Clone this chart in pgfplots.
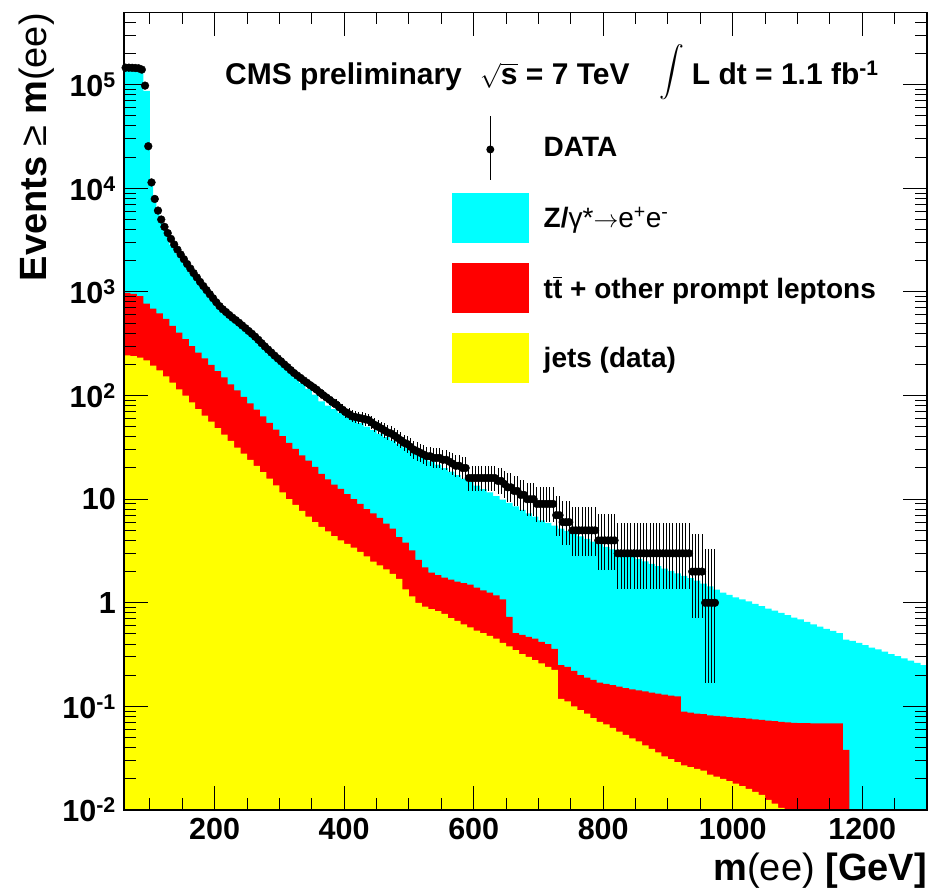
\documentclass[border=0pt]{standalone}
\usepackage{fontspec}
\setmainfont{Liberation Sans}
\usepackage{exscale}
\usepackage{pgfplots}
\pgfplotsset{compat=1.18}
\usepackage{pgfplotstable}
\definecolor{rcyan}{RGB}{0,255,255}
\definecolor{rred}{RGB}{255,0,0}
\definecolor{ryellow}{RGB}{255,255,0}

\pgfplotstableread{
m n ep em
62.5 146000 383 382
67.5 146000 383 382
72.5 145500 382 381
77.5 145000 382 381
82.5 144000 380 379
87.5 140000 375 374
92.5 98000 314 313
97.5 25500 161 160
102.5 11400 108 107
107.5 7900 90 89
112.5 6100 79 78
117.5 5000 72 71
122.5 4250 66 65
127.5 3700 62 61
132.5 3250 58 57
137.5 2870 55 54
142.5 2560 52 51
147.5 2300 49 48
152.5 2070 46 45
157.5 1860 44 43
162.5 1680 42 41
167.5 1520 40 39
172.5 1380 38 37
177.5 1250 36 35
182.5 1140 35 34
187.5 1040 33 32
192.5 950 32 31
197.5 870 30.5 29.5
202.5 795 29.2 28.2
207.5 730 28 27
212.5 680 27 26
217.5 640 26.3 25.3
222.5 600 25.5 24.5
227.5 565 24.8 23.8
232.5 535 24.1 23.1
237.5 505 23.5 22.5
242.5 475 22.8 21.8
247.5 447 22.1 21.1
252.5 420 21.5 20.5
257.5 395 20.9 19.9
262.5 370 20.2 19.2
267.5 345 19.6 18.6
272.5 320 18.9 17.9
277.5 298 18.3 17.3
282.5 278 17.7 16.7
287.5 260 17.1 16.1
292.5 243 16.6 15.6
297.5 228 16.1 15.1
302.5 214 15.6 14.6
307.5 200 15.1 14.1
312.5 188 14.7 13.7
317.5 176 14.3 13.3
322.5 165 13.8 12.8
327.5 156 13.5 12.5
332.5 148 13.2 12.2
337.5 140 12.8 11.8
342.5 133 12.5 11.5
347.5 126 12.2 11.2
352.5 120 12.0 11.0
357.5 114 11.7 10.7
362.5 107 11.3 10.3
367.5 101 11.0 10.0
372.5 96 10.8 9.8
377.5 91 10.5 9.5
382.5 86 10.3 9.3
387.5 82 10.1 9.1
392.5 77 9.8 8.8
397.5 73 9.5 8.5
402.5 69 9.3 8.3
407.5 66 9.1 8.1
412.5 63 8.9 7.9
417.5 62 8.9 7.9
422.5 61 8.8 7.8
427.5 60 8.7 7.7
432.5 59 8.7 7.7
437.5 58 8.6 7.6
442.5 55 8.4 7.4
447.5 52 8.2 7.2
452.5 50 8.1 7.1
457.5 48 7.9 6.9
462.5 46 7.8 6.8
467.5 44 7.6 6.6
472.5 43 7.6 6.6
477.5 41 7.4 6.4
482.5 39 7.2 6.2
487.5 37 7.1 6.1
492.5 35 6.9 5.9
497.5 34 6.8 5.8
502.5 32 6.7 5.7
507.5 30 6.5 5.5
512.5 29 6.4 5.4
517.5 28 6.3 5.3
522.5 27 6.2 5.2
527.5 26 6.1 5.1
532.5 26 6.1 5.1
537.5 25 6.0 5.0
542.5 25 6.0 5.0
547.5 25 6.0 5.0
552.5 24 5.9 4.9
557.5 24 5.9 4.9
562.5 23 5.8 4.8
567.5 22 5.7 4.7
572.5 21 5.6 4.6
577.5 21 5.6 4.6
582.5 20 5.5 4.3
587.5 20 5.5 4.3
592.5 16 5.08 3.94
597.5 16 5.08 3.94
602.5 16 5.08 3.94
607.5 16 5.08 3.94
612.5 16 5.08 3.94
617.5 16 5.08 3.94
622.5 16 5.08 3.94
627.5 16 5.08 3.94
632.5 16 5.08 3.94
637.5 15 4.96 3.80
642.5 15 4.96 3.80
647.5 14 4.83 3.70
652.5 13 4.70 3.55
657.5 13 4.70 3.55
662.5 12 4.56 3.41
667.5 12 4.56 3.41
672.5 11 4.42 3.26
677.5 11 4.42 3.26
682.5 10 4.27 3.11
687.5 10 4.27 3.11
692.5 10 4.27 3.11
697.5 9 4.11 2.94
702.5 9 4.11 2.94
707.5 9 4.11 2.94
712.5 9 4.11 2.94
717.5 9 4.11 2.94
722.5 9 4.11 2.94
727.5 7 3.77 2.58
732.5 7 3.77 2.58
737.5 6 3.58 2.38
742.5 6 3.58 2.38
747.5 6 3.58 2.38
752.5 5 3.38 2.16
757.5 5 3.38 2.16
762.5 5 3.38 2.16
767.5 5 3.38 2.16
772.5 5 3.38 2.16
777.5 5 3.38 2.16
782.5 5 3.38 2.16
787.5 5 3.38 2.16
792.5 4 3.16 1.91
797.5 4 3.16 1.91
802.5 4 3.16 1.91
807.5 4 3.16 1.91
812.5 4 3.16 1.91
817.5 4 3.16 1.91
822.5 3 2.92 1.63
827.5 3 2.92 1.63
832.5 3 2.92 1.63
837.5 3 2.92 1.63
842.5 3 2.92 1.63
847.5 3 2.92 1.63
852.5 3 2.92 1.63
857.5 3 2.92 1.63
862.5 3 2.92 1.63
867.5 3 2.92 1.63
872.5 3 2.92 1.63
877.5 3 2.92 1.63
882.5 3 2.92 1.63
887.5 3 2.92 1.63
892.5 3 2.92 1.63
897.5 3 2.92 1.63
902.5 3 2.92 1.63
907.5 3 2.92 1.63
912.5 3 2.92 1.63
917.5 3 2.92 1.63
922.5 3 2.92 1.63
927.5 3 2.92 1.63
932.5 3 2.92 1.63
937.5 2 2.64 1.29
942.5 2 2.64 1.29
947.5 2 2.64 1.29
952.5 2 2.64 1.29
957.5 1 2.30 0.83
962.5 1 2.30 0.83
967.5 1 2.30 0.83
972.5 1 2.30 0.83
}\datatab

\pgfplotstableread{
m v
60 0.001
60 147000
90 87000
100 11500
105 7700
110 5900
115 4850
120 4150
125 3600
130 2850
140 2300
150 1900
160 1540
170 1270
180 1050
190 870
200 720
210 620
220 550
230 490
240 440
250 390
260 340
270 292
280 255
290 225
300 197
310 172
320 150
330 132
340 116
350 102
360 88
370 80
380 74
390 68
400 63
410 58.6
420 54.2
430 50.2
440 46.5
450 43
460 39.8
470 36.9
480 34.1
490 31.6
500 29.3
510 27.1
520 25.1
530 23.2
540 21.5
550 19.9
560 18.4
570 17.1
580 15.8
590 14.6
600 13.5
610 12.5
620 11.6
630 10.7
640 9.9
650 9.2
660 8.5
670 7.9
680 7.3
690 6.8
700 6.25
710 5.9
720 5.55
730 5.2
740 4.93
750 4.65
760 4.38
770 4.13
780 3.89
790 3.67
800 3.46
810 3.27
820 3.10
830 2.94
840 2.79
850 2.65
860 2.51
870 2.38
880 2.26
890 2.14
900 2.03
910 1.92
920 1.82
930 1.73
940 1.64
950 1.53
960 1.44
970 1.34
980 1.25
990 1.19
1000 1.13
1010 1.08
1020 1.03
1030 0.975
1040 0.93
1050 0.88
1060 0.84
1070 0.80
1080 0.76
1090 0.72
1100 0.69
1110 0.655
1120 0.62
1130 0.59
1140 0.56
1150 0.537
1160 0.51
1170 0.44
1180 0.43
1190 0.41
1200 0.39
1210 0.37
1220 0.355
1230 0.338
1240 0.32
1250 0.305
1260 0.29
1270 0.277
1280 0.263
1290 0.25
1300 0.24
1300 0.001
}\zgtab

\pgfplotstableread{
m v
60 0.001
60 980
70 960
80 910
90 770
100 690
110 620
120 550
130 470
140 405
150 350
160 300
170 260
180 228
190 198
200 172
210 150
220 128
230 112
240 97
250 84
260 73
270 63
280 54.5
290 47
300 40.5
310 35
320 30.5
330 26.5
340 23.5
350 20.5
360 17.5
370 15.5
380 13.8
390 12.6
400 11.2
410 10.0
420 9.0
430 8.0
440 7.3
450 6.6
460 5.8
470 5.2
480 4.3
490 3.8
500 3.2
510 2.6
520 2.2
530 1.95
540 1.85
550 1.75
560 1.67
570 1.60
580 1.55
590 1.50
600 1.40
610 1.32
620 1.25
630 1.18
640 1.08
650 0.73
660 0.51
670 0.49
680 0.47
690 0.45
700 0.42
710 0.40
720 0.36
730 0.25
740 0.24
750 0.22
760 0.20
770 0.19
780 0.18
790 0.17
800 0.165
810 0.16
820 0.155
830 0.15
840 0.146
850 0.143
860 0.14
870 0.136
880 0.133
890 0.13
900 0.127
910 0.125
920 0.089
930 0.087
940 0.085
950 0.084
960 0.082
970 0.081
980 0.080
990 0.079
1000 0.078
1010 0.077
1020 0.076
1030 0.075
1040 0.074
1050 0.073
1060 0.072
1070 0.071
1080 0.070
1090 0.0695
1100 0.069
1110 0.0688
1120 0.0687
1130 0.0686
1140 0.0686
1150 0.0686
1160 0.0686
1170 0.038
1180 0.001
}\tttab

\pgfplotstableread{
m v
60 0.001
60 244
70 240
80 232
90 219
100 195
110 175
120 153
130 133
140 115
150 100
160 86
170 74
180 64
190 56
200 48.5
210 42
220 36.5
230 31.5
240 27.5
250 24
260 21
270 18.2
280 15.8
290 13.6
300 11.6
310 10.0
320 8.8
330 7.7
340 6.8
350 6.0
360 5.4
370 4.9
380 4.4
390 4.0
400 3.7
410 3.4
420 3.1
430 2.8
440 2.5
450 2.3
460 2.1
470 1.9
480 1.7
490 1.35
500 1.15
510 1.0
520 0.92
530 0.87
540 0.83
550 0.78
560 0.71
570 0.67
580 0.62
590 0.58
600 0.54
610 0.51
620 0.48
630 0.45
640 0.41
650 0.38
660 0.35
670 0.32
680 0.30
690 0.28
700 0.26
710 0.24
720 0.225
730 0.118
740 0.112
750 0.10
760 0.092
770 0.085
780 0.077
790 0.071
800 0.067
810 0.062
820 0.057
830 0.053
840 0.049
850 0.046
860 0.042
870 0.039
880 0.036
890 0.033
900 0.031
910 0.029
920 0.027
930 0.026
940 0.025
950 0.024
960 0.022
970 0.021
980 0.020
990 0.019
1000 0.018
1010 0.017
1020 0.016
1030 0.015
1040 0.014
1050 0.0125
1060 0.0115
1070 0.0105
1080 0.001
}\jettab

\begin{document}
\begin{tikzpicture}
\useasboundingbox (0pt,0pt) rectangle (940pt,887pt);
\begin{axis}[
  at={(124pt,77pt)}, anchor=south west,
  scale only axis, width=803pt, height=797.7pt,
  ymode=log, xmin=60, xmax=1300, ymin=0.01, ymax=500000,
  axis on top,
  xtick={200,400,600,800,1000,1200},
  xticklabels={200,400,600,800,1000,1200},
  minor xtick={100,150,...,1300},
  ytick={0.01,0.1,1,10,100,1000,10000,100000},
  yticklabels={10\textsuperscript{-2},10\textsuperscript{-1},1,10,10\textsuperscript{2},10\textsuperscript{3},10\textsuperscript{4},10\textsuperscript{5}},
  minor ytick={0.02,0.03,0.04,0.05,0.06,0.07,0.08,0.09,0.2,0.3,0.4,0.5,0.6,0.7,0.8,0.9,2,3,4,5,6,7,8,9,20,30,40,50,60,70,80,90,200,300,400,500,600,700,800,900,2000,3000,4000,5000,6000,7000,8000,9000,20000,30000,40000,50000,60000,70000,80000,90000,200000,300000,400000},
  tick align=inside, xtick pos=both, ytick pos=both,
  major tick length=24pt, minor tick length=12pt,
  tick style={black, line width=1pt},
  axis line style={black, line width=1.2pt},
  /pgf/number format/assume math mode=true,
  tick label style={font=\fontsize{30.5}{31}\selectfont\bfseries},
  xticklabel style={inner sep=0pt, yshift=-8pt},
  yticklabel style={inner sep=0pt, xshift=-8pt},
  xlabel={\textbf{m}(ee) \textbf{[GeV]}},
  ylabel={\textbf{Events} ≥ \textbf{m}(ee)},
  x label style={at={(axis description cs:1,0)}, anchor=base east, yshift=-70pt, inner sep=0pt, font=\fontsize{38}{38}\selectfont},
  y label style={at={(axis description cs:-0.0959,0.999)}, anchor=base east, inner sep=0pt, font=\fontsize{38}{38}\selectfont},
  legend style={at={(axis description cs:0.4085,0.8738)}, anchor=north west, draw=none, fill=none,
    inner sep=0pt, outer sep=0pt, row sep=0pt, column sep=15pt,
    font=\fontsize{28}{30}\selectfont\bfseries, nodes={inner sep=0pt}},
  legend cell align=left,
]
\addlegendimage{legend image code/.code={
  \path[draw=none, fill=none] (0pt,-35pt) rectangle (76.7pt,35pt);
  \path[draw=black, fill=none, line width=1pt] (38.3pt,-32pt) -- (38.3pt,32pt);
  \path[draw=none, fill=black] (38.3pt,-1.5pt) circle (4pt);}}
\addlegendentry{DATA}
\addlegendimage{legend image code/.code={
  \path[draw=none, fill=none] (0pt,-35pt) rectangle (76.7pt,35pt);
  \path[draw=none, fill=rcyan] (0pt,-24.7pt) rectangle (76.7pt,24.7pt);}}
\addlegendentry{Z/{\mdseries γ*$\rightarrow$e\textsuperscript{+}e\textsuperscript{-}}}
\addlegendimage{legend image code/.code={
  \path[draw=none, fill=none] (0pt,-35pt) rectangle (76.7pt,35pt);
  \path[draw=none, fill=rred] (0pt,-24.7pt) rectangle (76.7pt,24.7pt);}}
\addlegendentry{t$\overline{\mbox{t}}$ + other prompt leptons}
\addlegendimage{legend image code/.code={
  \path[draw=none, fill=none] (0pt,-35pt) rectangle (76.7pt,35pt);
  \path[draw=none, fill=ryellow] (0pt,-24.7pt) rectangle (76.7pt,24.7pt);}}
\addlegendentry{jets (data)}

\addplot[const plot, draw=none, fill=rcyan, forget plot] table[x=m, y=v] {\zgtab};
\addplot[const plot, draw=none, fill=rred, forget plot] table[x=m, y=v] {\tttab};
\addplot[const plot, draw=none, fill=ryellow, forget plot] table[x=m, y=v] {\jettab};
\addplot[only marks, mark=*, mark size=3.9pt, black, mark options={fill=black, line width=0.4pt}, forget plot,
  error bars/.cd, y dir=both, y explicit, error mark=none, error bar style={line width=0.9pt, black}]
  table[x=m, y=n, y error plus=ep, y error minus=em] {\datatab};
\end{axis}
\begin{scope}[font=\fontsize{30}{30}\selectfont\bfseries]
\node[anchor=base west, inner sep=0pt] at (225pt,802pt) {CMS preliminary};
\node[anchor=base west, inner sep=0pt] at (480pt,802pt) {$\sqrt{\mbox{s}}$ = 7 TeV};
\node[inner sep=0pt] at (671.7pt,815pt) {$\displaystyle\int$};
\node[anchor=base west, inner sep=0pt] at (691.7pt,802pt) {L dt = 1.1 fb\textsuperscript{-1}};
\end{scope}
\end{tikzpicture}
\end{document}
